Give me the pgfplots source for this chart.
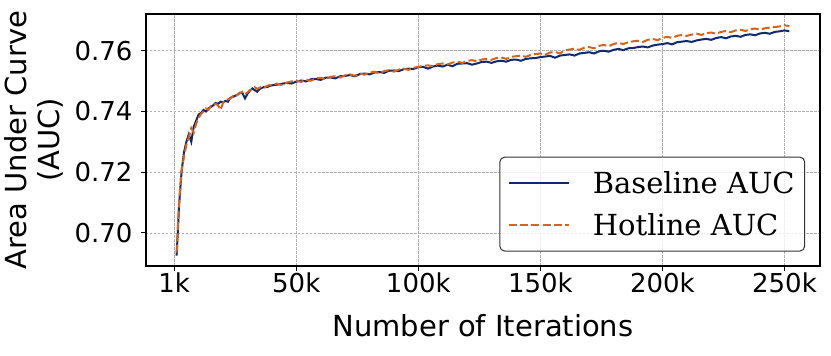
\documentclass[border=0pt]{standalone}
\usepackage{fontspec}
\setmainfont{DejaVu Sans}
\newfontfamily\legendfont{DejaVu Serif}
\usepackage{pgfplots}
\usepackage{pgfplotstable}
\pgfplotsset{compat=1.18}

\definecolor{basecol}{HTML}{0D2A6E}
\definecolor{hotcol}{HTML}{D9621A}
\definecolor{gridcol}{HTML}{B0B0B0}

% iterations in thousands, AUC of both runs
\pgfplotstableread{
it base hot
1 0.6925 0.6935
2 0.7090 0.7100
3 0.7200 0.7205
4 0.7265 0.7250
5 0.7300 0.7290
6 0.7325 0.7315
7 0.7300 0.7345
8 0.7350 0.7330
9 0.7370 0.7360
10 0.7390 0.7378
11 0.7395 0.7392
12 0.7405 0.7400
13 0.7400 0.7410
14 0.7410 0.7405
15 0.7415 0.7418
16 0.7420 0.7422
17 0.7428 0.7425
18 0.7425 0.7420
19 0.7432 0.7405
20 0.7430 0.7428
21 0.7435 0.7438
22 0.7432 0.7440
23 0.7445 0.7442
24 0.7448 0.7450
25 0.7452 0.7447
26 0.7455 0.7456
27 0.7462 0.7460
28 0.7460 0.7465
29 0.7443 0.7458
30 0.7458 0.7462
31 0.7468 0.7470
32 0.7476 0.7472
33 0.7470 0.7480
34 0.7465 0.7474
35 0.7474 0.7478
36 0.7478 0.7482
37 0.7481 0.7479
38 0.7480 0.7484
39 0.7484 0.7487
40 0.7486 0.7485
42 0.7488 0.7492
44 0.7491 0.7487
46 0.7494 0.7495
48 0.7492 0.7499
50 0.7498 0.7502
52 0.7502 0.7497
54 0.7499 0.7505
56 0.7506 0.7501
58 0.7507 0.7509
60 0.7504 0.7511
62 0.7511 0.7506
64 0.7512 0.7514
66 0.7509 0.7516
68 0.7516 0.7512
70 0.7517 0.7519
72 0.7520 0.7522
74 0.7516 0.7518
76 0.7523 0.7525
78 0.7525 0.7521
80 0.7522 0.7528
82 0.7528 0.7531
84 0.7530 0.7526
86 0.7527 0.7533
88 0.7534 0.7536
90 0.7535 0.7531
92 0.7533 0.7538
94 0.7539 0.7541
96 0.7541 0.7537
98 0.7540 0.7544
100 0.7546 0.7547
102 0.7547 0.7550
104 0.7541 0.7552
106 0.7548 0.7549
108 0.7551 0.7556
110 0.7548 0.7558
112 0.7554 0.7555
114 0.7549 0.7561
116 0.7557 0.7564
118 0.7558 0.7560
120 0.7559 0.7566
122 0.7554 0.7569
124 0.7558 0.7565
126 0.7563 0.7571
128 0.7564 0.7573
130 0.7560 0.7570
132 0.7565 0.7576
134 0.7567 0.7578
136 0.7564 0.7573
138 0.7570 0.7580
140 0.7571 0.7582
142 0.7567 0.7584
144 0.7573 0.7580
146 0.7575 0.7586
148 0.7576 0.7589
150 0.7579 0.7591
152 0.7581 0.7587
154 0.7583 0.7594
156 0.7577 0.7596
158 0.7584 0.7591
160 0.7586 0.7601
162 0.7588 0.7604
164 0.7584 0.7607
166 0.7591 0.7603
168 0.7593 0.7610
170 0.7595 0.7612
172 0.7591 0.7608
174 0.7598 0.7616
176 0.7600 0.7619
178 0.7597 0.7615
180 0.7603 0.7622
182 0.7606 0.7626
184 0.7602 0.7622
186 0.7608 0.7628
188 0.7609 0.7631
190 0.7612 0.7633
192 0.7614 0.7629
194 0.7611 0.7636
196 0.7617 0.7639
198 0.7620 0.7635
200 0.7622 0.7642
202 0.7625 0.7646
204 0.7621 0.7642
206 0.7628 0.7649
208 0.7630 0.7652
210 0.7632 0.7649
212 0.7629 0.7653
214 0.7634 0.7656
216 0.7637 0.7652
218 0.7639 0.7658
220 0.7636 0.7660
222 0.7642 0.7656
224 0.7645 0.7662
226 0.7641 0.7665
228 0.7647 0.7661
230 0.7649 0.7667
232 0.7646 0.7669
234 0.7652 0.7665
236 0.7654 0.7671
238 0.7651 0.7673
240 0.7657 0.7669
242 0.7659 0.7674
244 0.7656 0.7676
246 0.7662 0.7678
248 0.7664 0.7680
250 0.7667 0.7684
252 0.7664 0.7681
}\auctable

\begin{document}
\begin{tikzpicture}
\begin{axis}[
    at={(146pt,90pt)}, anchor=south west,
    scale only axis,
    width=674pt, height=252pt,
    xmin=-11.55, xmax=264.55,
    ymin=0.6891, ymax=0.7721,
    xtick={0,50,100,150,200,250},
    xticklabels={1k,50k,100k,150k,200k,250k},
    ytick={0.70,0.72,0.74,0.76},
    /pgf/number format/fixed,
    /pgf/number format/fixed zerofill,
    /pgf/number format/precision=2,
    /pgf/number format/assume math mode=true,
    scaled y ticks=false,
    tick align=outside, tick pos=left,
    major tick length=5pt,
    every tick/.style={black, line width=1pt},
    axis line style={line width=1.1pt, black},
    grid=major,
    major grid style={gridcol, line width=0.6pt, dash pattern=on 2.5pt off 1.5pt},
    tick label style={font=\fontsize{26}{30}\selectfont},
    xticklabel style={yshift=2pt},
    yticklabel style={xshift=-5pt},
    xlabel={Number of Iterations},
    ylabel={Area Under Curve\\(AUC)},
    label style={font=\fontsize{29}{33}\selectfont},
    ylabel style={align=center, yshift=4pt},
    xlabel style={yshift=-15pt},
    legend style={at={(0.978,0.057)}, anchor=south east,
        draw=black!80, line width=1pt, rounded corners=5pt,
        fill=white, fill opacity=0.8, text opacity=1,
        font=\legendfont\fontsize{29}{33}\selectfont,
        inner xsep=8pt, inner ysep=8pt, row sep=7pt,
        nodes={inner ysep=6pt},
        /tikz/every odd column/.append style={column sep=21pt}},
    legend cell align=left,
    legend image code/.code={\draw[#1] (0pt,0pt) -- (60pt,0pt);},
]
\addplot[basecol, line width=2pt] table[x=it, y=base] {\auctable};
\addlegendentry{Baseline AUC}
\addplot[hotcol, line width=2pt, dash pattern=on 8pt off 3.3pt] table[x=it, y=hot] {\auctable};
\addlegendentry{Hotline AUC}
\end{axis}
\path[use as bounding box] (0pt,0pt) rectangle (831pt,356pt);
\end{tikzpicture}
\end{document}
